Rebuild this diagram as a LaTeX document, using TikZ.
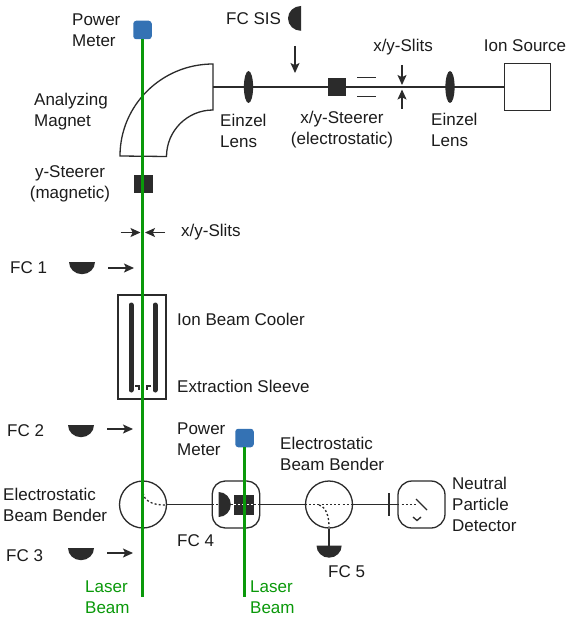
\documentclass[tikz,border=0pt]{standalone}
\usepackage{fontspec}
\setmainfont{Liberation Sans}
\usetikzlibrary{arrows.meta}
\definecolor{ink}{HTML}{2B2B2B}
\definecolor{beam}{HTML}{0A990A}
\definecolor{pm}{HTML}{3472B4}
\definecolor{lab}{HTML}{1C1C1C}
\tikzset{
 line/.style={draw=ink,line width=1.3pt},
 lbl/.style={font=\fontsize{17}{21}\selectfont,text=lab,align=left,inner sep=0pt},
 gl/.style={font=\fontsize{17}{21}\selectfont,text=beam,align=left,inner sep=0pt},
 ar/.style={draw=ink,line width=1.2pt,-{Stealth[length=10pt,width=9pt,inset=2.2pt]}},
 laser/.style={draw=beam,line width=3pt},
 meter/.style={fill=pm,rounded corners=3pt,draw=none,minimum size=18.5pt,inner sep=0pt},
 solid box/.style={fill=ink,draw=none,minimum size=18.5pt,inner sep=0pt},
 lens/.style={fill=ink,draw=none},
 dots/.style={draw=ink,line width=1.3pt,dash pattern=on 2pt off 2.2pt},
 fc/.style={fill=ink,draw=none},
}
\begin{document}
\begin{tikzpicture}[x=1pt,y=-1pt]
\useasboundingbox (0,0) rectangle (567,623);
\fill[white] (0,0) rectangle (567,623);
% named anchors
\coordinate (magR) at (213,87);
\node[draw=ink,line width=1.3pt,minimum size=46.5pt,inner sep=0pt] (src) at (527.5,87) {};
\draw[line] (magR) -- (src.west);
% magnet
\draw[line] (120,156) arc[start angle=180,end angle=270,x radius=93,y radius=92] -- (213,110) arc[start angle=270,end angle=180,radius=46.5] -- cycle;
% lenses
\fill[lens] (248.5,87) ellipse[x radius=4.6,y radius=16];
\fill[lens] (450,87) ellipse[x radius=4.6,y radius=16];
% FC SIS
\fill[fc] (301,6) arc[start angle=270,end angle=90,x radius=13,y radius=12.4] -- cycle;
\coordinate (a1) at (295,46); \coordinate (a1e) at (295,73);
\draw[ar] (a1) -- (a1e);
% steerer + slits
\node[solid box] (st) at (337,87) {};
\coordinate (s1) at (357,77.7); \coordinate (s2) at (376,77.7);
\coordinate (s3) at (357,96.3); \coordinate (s4) at (376,96.3);
\draw[line] (s1) -- (s2); \draw[line] (s3) -- (s4);
\coordinate (b1) at (402,65); \coordinate (b1e) at (402,85);
\coordinate (b2) at (402,109); \coordinate (b2e) at (402,89.5);
\draw[ar] (b1) -- (b1e); \draw[ar] (b2) -- (b2e);
% y steerer
\node[solid box] (yst) at (143.5,184) {};
% slit arrows
\coordinate (c1) at (120.5,232.5); \coordinate (c1e) at (140.5,232.5);
\coordinate (c2) at (165,232.5); \coordinate (c2e) at (145,232.5);
\draw[ar] (c1) -- (c1e); \draw[ar] (c2) -- (c2e);
% FC 1,2,3
\fill[fc] (69,262) arc[start angle=180,end angle=0,x radius=13,y radius=12.2] -- cycle;
\draw[ar] (108,268) -- (134,268);
\fill[fc] (68,425) arc[start angle=180,end angle=0,x radius=13,y radius=12.2] -- cycle;
\draw[ar] (107,429) -- (133,429);
\fill[fc] (68,548) arc[start angle=180,end angle=0,x radius=13,y radius=12.2] -- cycle;
\draw[ar] (107,553) -- (133,553);
% cooler
\draw[line] (118,295) rectangle (166,399);
\draw[ink,line width=5pt,line cap=round] (131,305) -- (131,390);
\draw[ink,line width=5pt,line cap=round] (155,305) -- (155,390);
\draw[ink,line width=2pt] (135,385.5) -- (138.5,385.5) -- (138.5,390);
\draw[ink,line width=2pt] (151,385.5) -- (146.5,385.5) -- (146.5,390);
% beam line lower
\node[draw=ink,line width=1.3pt,circle,minimum size=47pt,inner sep=0pt] (bb1) at (143,504.5) {};
\node[draw=ink,line width=1.3pt,rounded corners=13pt,minimum width=47.5pt,minimum height=47pt,inner sep=0pt] (fc4box) at (236,504.5) {};
\node[draw=ink,line width=1.3pt,circle,minimum size=47pt,inner sep=0pt] (bb2) at (329,504.5) {};
\node[draw=ink,line width=1.3pt,rounded corners=14pt,minimum width=47pt,minimum height=47pt,inner sep=0pt] (npd) at (421.5,504.5) {};
\draw[line] (bb1.east) -- (fc4box.west);
\draw[line] (fc4box.east) -- (bb2.west);
\draw[line] (bb2.east) -- (npd.west);
% FC4 contents
\fill[fc] (218.5,492) arc[start angle=-90,end angle=90,x radius=12.3,y radius=12.5] -- cycle;
\node[solid box,minimum size=20pt] (st4) at (244,504.5) {};
\draw[white,line width=1.3pt,dash pattern=on 2pt off 2.2pt] (234,504.5) -- (254,504.5);
\draw[dots] (212,504.5) -- (219,504.5);
\draw[dots] (231,504.5) -- (234,504.5);
\draw[dots] (254,504.5) -- (260,504.5);
% dotted bends
\draw[dots] (143,493) .. controls (144,500) and (151,505) .. (165,505);
\draw[dots] (bb2.west) -- (bb2.east);
\coordinate (stem) at (329,545.5);
\draw[dots] (319,505) .. controls (326,507) and (329,516) .. (329,527);
\draw[line] (bb2.south) -- (stem);
\fill[fc] (316.5,545.5) arc[start angle=180,end angle=0,x radius=12.6,y radius=12.2] -- cycle;
% slit + detector
\draw[line] (389,493) -- (389,516);
\draw[dots] (npd.west) -- (417,504.5);
\draw[ink,line width=1.3pt] (416,499) -- (427,510);
\draw[ink,line width=1.3pt] (413,517) -- (417,520.5) -- (421,517);
% lasers
\node[meter] (pm1) at (142.5,30) {};
\node[meter] (pm2) at (244.5,438) {};
\coordinate (l1) at (142.7,597); \coordinate (l2) at (244,597);
\draw[laser] (pm1.south -| l1) -- (l1);
\draw[laser] (pm2.south -| l2) -- (l2);
% labels
\node[lbl,anchor=west] (t1) at (72,30.5) {Power\\Meter};
\node[lbl,anchor=west] (t2) at (226,19) {FC SIS};
\node[lbl,anchor=west] (t3) at (34,112) {Analyzing\\Magnet};
\node[lbl,anchor=west] (t4) at (220,131) {Einzel\\Lens};
\node[lbl,anchor=center,align=center] (t5) at (342,130) {x/y-Steerer\\(electrostatic)};
\node[lbl,anchor=center] (t6) at (403,47) {x/y-Slits};
\node[lbl,anchor=west] (t7) at (431,129.5) {Einzel\\Lens};
\node[lbl,anchor=center] (t8) at (525,46) {Ion Source};
\node[lbl,anchor=center,align=center] (t9) at (70,184) {y-Steerer\\(magnetic)};
\node[lbl,anchor=west] (t10) at (181,232) {x/y-Slits};
\node[lbl,anchor=west] (t11) at (10,268) {FC 1};
\node[lbl,anchor=west] (t12) at (177,319) {Ion Beam Cooler};
\node[lbl,anchor=west] (t13) at (177,386) {Extraction Sleeve};
\node[lbl,anchor=west] (t14) at (7,431) {FC 2};
\node[lbl,anchor=west] (t15) at (177,439) {Power\\Meter};
\node[lbl,anchor=west] (t16) at (280,454) {Electrostatic\\Beam Bender};
\node[lbl,anchor=west] (t17) at (3,505) {Electrostatic\\Beam Bender};
\node[lbl,anchor=west] (t18) at (6,556) {FC 3};
\node[lbl,anchor=west] (t19) at (177,541) {FC 4};
\node[lbl,anchor=west] (t20) at (328,572) {FC 5};
\node[lbl,anchor=west] (t21) at (452,504) {Neutral\\Particle\\Detector};
\node[gl,anchor=west] (t22) at (85,597) {Laser\\Beam};
\node[gl,anchor=west] (t23) at (250,597) {Laser\\Beam};
\end{tikzpicture}
\end{document}
